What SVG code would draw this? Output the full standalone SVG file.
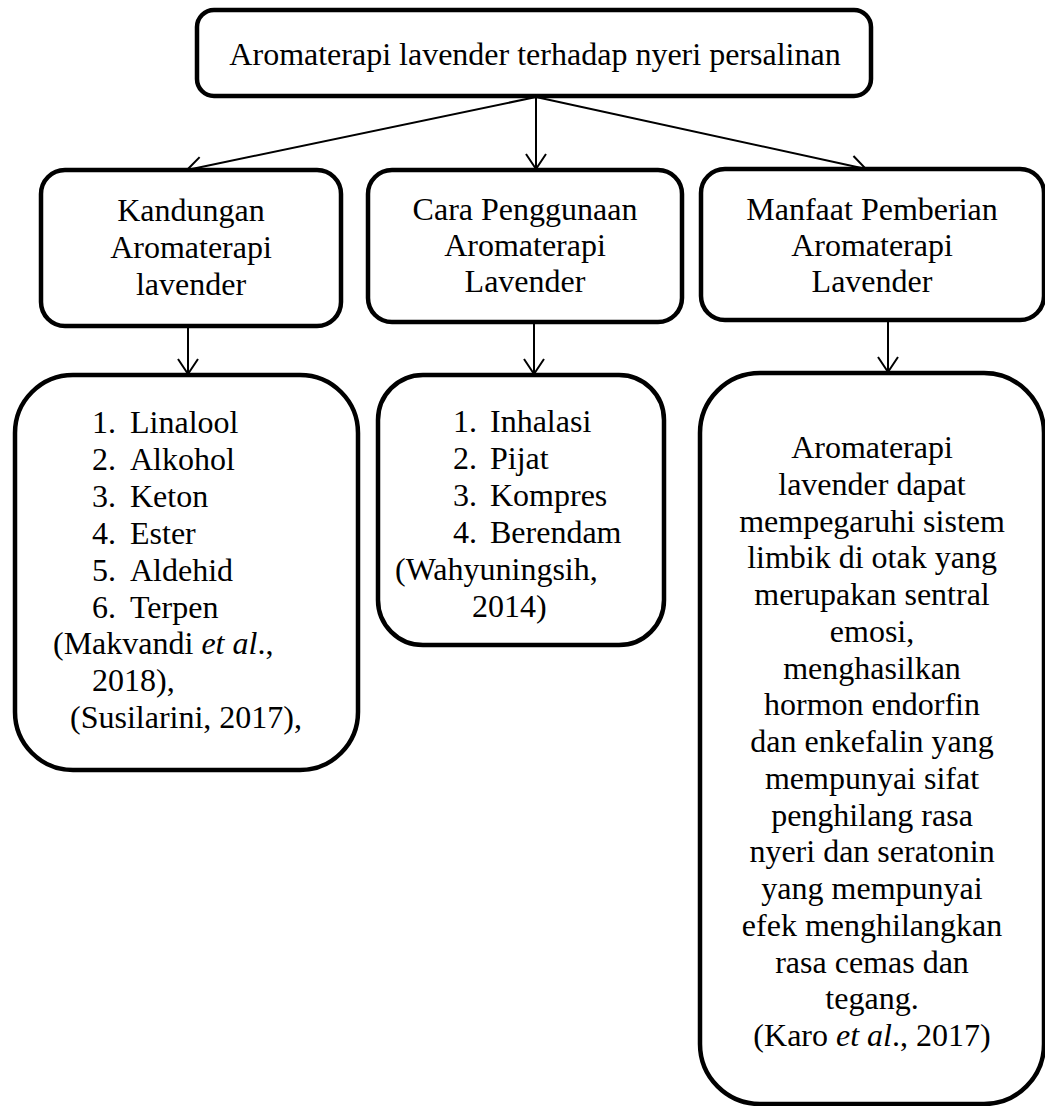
<svg xmlns="http://www.w3.org/2000/svg" width="1045" height="1106" viewBox="0 0 1045 1106">
<defs>
<style>
.box{fill:#fff;stroke:#000;stroke-width:4.5}
.t{font-family:"Liberation Serif","Times New Roman",serif;font-size:32px;fill:#000}
.c{text-anchor:middle}
.conn line{stroke:#000;stroke-width:2}
</style>
<marker id="arr" markerUnits="userSpaceOnUse" markerWidth="20" markerHeight="24" refX="0" refY="0" viewBox="-17 -12 19 24" orient="auto" overflow="visible">
<path d="M-15,-10 L0,0 L-15,10" fill="none" stroke="#000" stroke-width="2"/>
</marker>
</defs>
<rect width="1045" height="1106" fill="#fff"/>
<g id="connectors" class="conn">
<line x1="536" y1="97" x2="187" y2="170" marker-end="url(#arr)"/>
<line x1="536" y1="97" x2="536" y2="169" marker-end="url(#arr)"/>
<line x1="536" y1="97" x2="866" y2="169" marker-end="url(#arr)"/>
<line x1="188" y1="327" x2="188" y2="374" marker-end="url(#arr)"/>
<line x1="534" y1="322" x2="534" y2="374" marker-end="url(#arr)"/>
<line x1="888" y1="320" x2="888" y2="372" marker-end="url(#arr)"/>
</g>
<g id="top">
<rect class="box" x="197" y="10" width="674" height="86" rx="17"/>
<text class="t c" x="535" y="65">Aromaterapi lavender terhadap nyeri persalinan</text>
</g>
<g id="kandungan">
<rect class="box" x="41" y="170" width="300" height="156" rx="24"/>
<text class="t c" x="191" y="221">Kandungan</text>
<text class="t c" x="191" y="258">Aromaterapi</text>
<text class="t c" x="191" y="295">lavender</text>
</g>
<g id="cara">
<rect class="box" x="368" y="170" width="314" height="152" rx="24"/>
<text class="t c" x="525" y="220">Cara Penggunaan</text>
<text class="t c" x="525" y="256">Aromaterapi</text>
<text class="t c" x="525" y="292">Lavender</text>
</g>
<g id="manfaat">
<rect class="box" x="701" y="169" width="343" height="151" rx="24"/>
<text class="t c" x="872" y="220">Manfaat Pemberian</text>
<text class="t c" x="872" y="256">Aromaterapi</text>
<text class="t c" x="872" y="292">Lavender</text>
</g>
<g id="kandungan-list">
<rect class="box" x="15" y="375" width="343" height="395" rx="58"/>
<text class="t" x="92" y="433">1.</text><text class="t" x="130" y="433">Linalool</text>
<text class="t" x="92" y="470">2.</text><text class="t" x="130" y="470">Alkohol</text>
<text class="t" x="92" y="507">3.</text><text class="t" x="130" y="507">Keton</text>
<text class="t" x="92" y="544">4.</text><text class="t" x="130" y="544">Ester</text>
<text class="t" x="92" y="581">5.</text><text class="t" x="130" y="581">Aldehid</text>
<text class="t" x="92" y="618">6.</text><text class="t" x="130" y="618">Terpen</text>
<text class="t" x="53" y="654">(Makvandi <tspan font-style="italic">et al</tspan>.,</text>
<text class="t" x="92" y="691">2018),</text>
<text class="t" x="70" y="728">(Susilarini, 2017),</text>
</g>
<g id="cara-list">
<rect class="box" x="378" y="375" width="286" height="270" rx="45"/>
<text class="t" x="453" y="432">1.</text><text class="t" x="490" y="432">Inhalasi</text>
<text class="t" x="453" y="469">2.</text><text class="t" x="490" y="469">Pijat</text>
<text class="t" x="453" y="506">3.</text><text class="t" x="490" y="506">Kompres</text>
<text class="t" x="453" y="543">4.</text><text class="t" x="490" y="543">Berendam</text>
<text class="t" x="395" y="580">(Wahyuningsih,</text>
<text class="t" x="472" y="617">2014)</text>
</g>
<g id="manfaat-text">
<rect class="box" x="700" y="373" width="344" height="731" rx="60"/>
<text class="t c" x="872" y="458">Aromaterapi</text>
<text class="t c" x="872" y="494.75">lavender dapat</text>
<text class="t c" x="872" y="531.5">mempegaruhi sistem</text>
<text class="t c" x="872" y="568.25">limbik di otak yang</text>
<text class="t c" x="872" y="605">merupakan sentral</text>
<text class="t c" x="872" y="641.75">emosi,</text>
<text class="t c" x="872" y="678.5">menghasilkan</text>
<text class="t c" x="872" y="715.25">hormon endorfin</text>
<text class="t c" x="872" y="752">dan enkefalin yang</text>
<text class="t c" x="872" y="788.75">mempunyai sifat</text>
<text class="t c" x="872" y="825.5">penghilang rasa</text>
<text class="t c" x="872" y="862.25">nyeri dan seratonin</text>
<text class="t c" x="872" y="899">yang mempunyai</text>
<text class="t c" x="872" y="935.75">efek menghilangkan</text>
<text class="t c" x="872" y="972.5">rasa cemas dan</text>
<text class="t c" x="872" y="1009.25">tegang.</text>
<text class="t c" x="872" y="1046">(Karo <tspan font-style="italic">et al</tspan>., 2017)</text>
</g>
</svg>
